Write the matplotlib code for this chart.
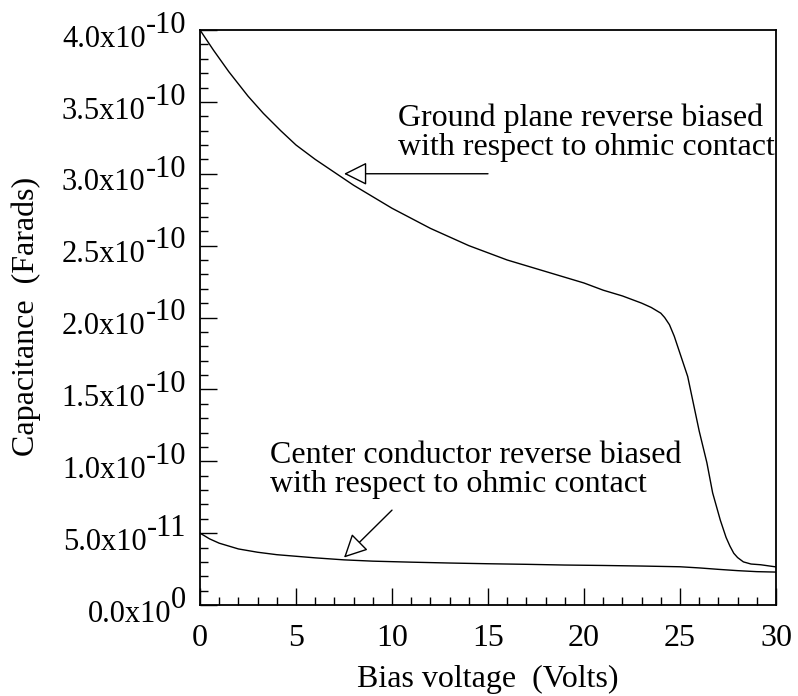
import matplotlib
matplotlib.use("Agg")
import matplotlib.pyplot as plt
from matplotlib.ticker import MultipleLocator, FixedLocator

plt.rcParams["font.family"] = ["Liberation Serif", "DejaVu Serif"]

# ground plane reverse biased w.r.t. ohmic contact
ground_v = [0, 0.7, 1.5, 2.5, 3.3, 4.2, 5, 6, 7, 8, 9, 10, 11, 12, 13, 14, 15,
            16, 17, 18, 19, 20, 21, 22, 23, 23.5, 24, 24.2, 24.45, 24.7, 25,
            25.4, 25.7, 26, 26.4, 26.7, 27.1, 27.4, 27.6, 27.8, 28.0, 28.3,
            28.7, 29.2, 30]
ground_c = [4.00, 3.86, 3.71, 3.54, 3.42, 3.30, 3.20, 3.10, 3.01, 2.92, 2.84,
            2.76, 2.69, 2.62, 2.56, 2.50, 2.45, 2.40, 2.36, 2.32, 2.28, 2.24,
            2.19, 2.15, 2.10, 2.07, 2.03, 2.00, 1.95, 1.87, 1.75, 1.59, 1.40,
            1.21, 0.99, 0.78, 0.59, 0.47, 0.41, 0.36, 0.33, 0.30, 0.285, 0.28,
            0.265]  # x1e-10 F

# center conductor reverse biased w.r.t. ohmic contact
center_v = [0, 0.5, 1, 2, 3, 4, 5, 6, 7.5, 9, 11, 13, 15, 17, 19, 21, 23, 25,
            26, 27, 28, 29, 30]
center_c = [5.0, 4.6, 4.3, 3.9, 3.67, 3.5, 3.39, 3.28, 3.14, 3.05, 2.98, 2.92,
            2.87, 2.83, 2.78, 2.75, 2.71, 2.66, 2.58, 2.48, 2.39, 2.32, 2.29]  # x1e-11 F

ytick_vals = [0, 5e-11, 1e-10, 1.5e-10, 2e-10, 2.5e-10, 3e-10, 3.5e-10, 4e-10]
ytick_mant = ["0.0x10", "5.0x10", "1.0x10", "1.5x10", "2.0x10", "2.5x10",
              "3.0x10", "3.5x10", "4.0x10"]
ytick_exp = ["0", "-11", "-10", "-10", "-10", "-10", "-10", "-10", "-10"]

FS = 23

fig = plt.figure(figsize=(7.98, 6.96), dpi=100)
ax = fig.add_axes([200 / 798, 91 / 696, 576 / 798, 575 / 696])

ax.plot(ground_v, [c * 1e-10 for c in ground_c], color="black", lw=1.0)
ax.plot(center_v, [c * 1e-11 for c in center_c], color="black", lw=1.0)

ax.set_xlim(0, 30)
ax.set_ylim(0, 4e-10)
ax.xaxis.set_major_locator(MultipleLocator(5))
ax.xaxis.set_minor_locator(MultipleLocator(1))
ax.yaxis.set_major_locator(FixedLocator(ytick_vals))
ax.yaxis.set_minor_locator(MultipleLocator(1e-11))

ax.tick_params(which="both", direction="in", top=False, right=False,
               labelleft=False, labelsize=23, width=1.0)
ax.tick_params(which="major", length=12)
ax.tick_params(which="minor", length=6)
ax.tick_params(axis="x", pad=14)
for s in ax.spines.values():
    s.set_linewidth(1.3)

# y tick labels: mantissa with a full-size raised exponent
for v, m, e in zip(ytick_vals, ytick_mant, ytick_exp):
    sup = ax.annotate(e, xy=(0, v), xycoords=("axes fraction", "data"),
                      xytext=(-10, -2), textcoords="offset points",
                      ha="right", va="baseline", fontsize=22)
    ax.annotate(m, xy=(0, 0), xycoords=sup, xytext=(0, -10),
                textcoords="offset points", ha="right", va="bottom",
                fontsize=22)

ax.set_xlabel("Bias voltage  (Volts)", fontsize=FS, labelpad=8)
fig.text(26 / 798, 0.545, "Capacitance  (Farads)", fontsize=FS,
         rotation=90, ha="center", va="center")

arrow = dict(arrowstyle="-|>,head_length=1.0,head_width=0.5",
             mutation_scale=14.4, fc="white", ec="black", lw=1.0,
             shrinkA=0, shrinkB=0)
ax.annotate("", xy=(7.5, 3.0e-10), xytext=(15, 3.0e-10), arrowprops=arrow)
ax.annotate("", xy=(7.5, 3.3e-11), xytext=(10, 6.6e-11), arrowprops=arrow)

ax.text(10.3, 3.49e-10, "Ground plane reverse biased\nwith respect to ohmic contact",
        fontsize=FS, va="top", ha="left", linespacing=1.0)
ax.text(3.65, 1.14e-10, "Center conductor reverse biased\nwith respect to ohmic contact",
        fontsize=FS, va="top", ha="left", linespacing=1.0)

fig.savefig("out.png", dpi=100)
